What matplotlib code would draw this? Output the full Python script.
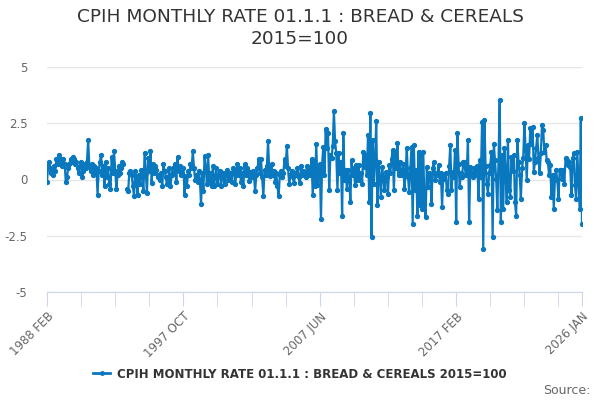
import numpy as np
import matplotlib
matplotlib.use("Agg")
import matplotlib.pyplot as plt
from matplotlib.lines import Line2D

nan = np.nan

# monthly rate, 1988 FEB .. 2026 JAN (one row per year)
y1988 = [-0.1, 0.6, 0.8, 0.3, 0.5, 0.2, 0.6, 0.4, 0.9, 0.7, 1.1]
y1989 = [0.8, 0.9, 0.6, 0.9, 0.7, -0.1, 0.1, 0.5, 0.7, 0.9, 0.8, 1.0]
y1990 = [0.9, 0.7, 0.8, 0.5, 0.3, 0.6, 0.8, 0.1, 0.4, 0.7, 0.5, 0.8]
y1991 = [1.75, 0.6, 0.4, 0.7, 0.2, 0.6, 0.3, 0.5, -0.67, 0.4, 0.8, 1.1]
y1992 = [0.2, 0.6, -0.3, 0.8, 0.1, 0.5, -0.2, -0.44, 1.0, 0.3, 1.26, 0.4]
y1993 = [-0.4, 0.22, 0.6, 0.3, 0.5, 0.8, 0.7, nan, nan, -0.44, -0.52, 0.3]
y1994 = [0.37, 0.2, -0.3, -0.74, 0.37, 0.1, -0.67, 0.2, -0.2, 0.44, 0.1, -0.52]
y1995 = [1.19, 0.3, -0.6, 0.96, 0.4, 1.26, -0.15, 0.67, 0.3, 0.6, 0.44, 0.1]
y1996 = [0.2, 0.0, 0.3, -0.3, 0.67, 0.4, 0.1, -0.2, 0.0, 0.5, -0.3, 0.2]
y1997 = [0.5, 0.3, 0.7, -0.1, 1.0, 0.4, 0.6, 0.2, 0.3, 0.5, -0.67, 0.15]
y1998 = [-0.3, 0.4, 0.2, 0.67, 0.5, 1.26, 0.5, 0.0, 0.2, -0.1, 0.4, 0.0]
y1999 = [-1.1, 0.3, -0.5, 1.04, 0.5, -0.2, 1.1, 0.0, 0.3, -0.3, 0.6, -0.3]
y2000 = [0.1, 0.5, -0.2, 0.2, 0.4, -0.3, 0.1, 0.3, -0.2, 0.2, 0.44, 0.0]
y2001 = [0.1, 0.3, -0.1, 0.5, 0.44, -0.2, 0.2, 0.67, 0.2, 0.5, -0.1, 0.3]
y2002 = [-0.3, 0.67, 0.2, 0.5, 0.37, -0.07, 0.3, 0.1, 0.4, 0.2, -0.52, 0.2]
y2003 = [0.5, 0.89, 0.3, 0.89, 0.1, -0.74, 0.44, 0.2, 0.6, 1.7, 0.4, 0.15]
y2004 = [0.67, 0.2, 0.4, -0.1, 0.3, -0.3, -0.74, 0.2, 0.4, 0.1, 0.3, 0.89]
y2005 = [0.6, 1.5, 0.5, -0.2, 0.2, 0.37, 0.1, -0.15, 0.3, 0.2, 0.52, 0.1]
y2006 = [-0.15, 0.6, 0.2, 0.4, 0.3, 0.1, 0.6, 0.3, 0.5, 0.2, 0.89, -0.7]
y2007 = [0.8, -0.3, 1.6, -0.25, 0.34, 0.7, -1.75, 0.7, 1.46, 0.2, 2.24, 1.4]
y2008 = [2.06, -0.48, 1.09, 0.94, 1.5, 3.03, 1.7, 1.16, -0.48, 1.16, 0.3, 0.8]
y2009 = [-1.6, 2.06, -0.03, 0.42, -0.4, 0.42, 0.1, -1.0, 0.87, 0.2, 0.5, -0.25]
y2010 = [0.64, 0.0, 0.64, 0.0, 0.3, -0.2, 1.24, 0.57, 1.09, 0.2, 1.98, -1.0]
y2011 = [2.96, -2.57, 1.76, -0.18, 0.9, 2.58, -1.15, 0.8, 0.1, -0.78, 0.57, 0.1]
y2012 = [-0.48, 0.34, 0.1, -0.63, 0.64, 0.3, 0.9, 1.31, -0.48, 1.16, 0.5, 1.61]
y2013 = [0.2, 0.79, 0.34, 0.2, 0.71, -0.4, 0.3, 1.39, 0.12, -0.55, 0.5, 1.46]
y2014 = [-1.96, 1.53, -0.48, 0.42, -1.6, 1.24, -1.15, 1.16, -1.3, 1.24, -1.07, -1.67]
y2015 = [0.57, -0.33, 0.3, 0.19, -1.07, 0.5, 0.79, -0.03, 0.27, 0.2, 0.64, -0.1]
y2016 = [0.3, -1.22, 0.19, 0.04, 0.3, -0.48, -0.63, 0.6, 1.53, -0.48, 0.34, 0.1]
y2017 = [1.31, -1.89, 2.05, 0.71, -0.33, 0.3, 0.12, 0.79, 0.79, 0.2, 0.42, 1.76]
y2018 = [-1.89, 0.57, 0.3, 0.12, 0.5, 0.19, 0.34, 0.6, -0.85, 0.86, 0.12, 2.57]
y2019 = [-3.08, 2.65, 0.6, -0.18, -0.63, 0.3, 0.64, 1.24, -2.56, 1.6, 0.86, 0.04]
y2020 = [-1.37, 0.86, 3.54, -1.89, 1.09, -1.3, 1.38, 0.3, -1.0, 1.76, -0.48, -0.77]
y2021 = [1.01, 0.4, 1.09, -1.0, -1.6, 1.76, 0.79, 0.19, -0.85, 0.5, 0.94, 2.5]
y2022 = [1.38, -0.03, 1.53, 0.9, 2.28, 1.6, 2.35, 0.34, 0.8, 1.38, 1.98, 0.94]
y2023 = [0.27, 1.2, 2.43, 2.2, 1.24, 1.53, 0.86, 0.79, 0.19, 0.64, -0.77, 0.19]
y2024 = [-1.3, 0.1, 0.42, -0.03, -0.85, 0.42, 0.42, 0.04, 0.42, -0.18, 0.94, 0.86]
y2025 = [0.64, 0.79, 0.57, -0.7, 0.94, 1.16, -0.25, -0.85, 1.24, -0.03, -1.3, 2.72]
y2026 = [-1.96]

values = (y1988 + y1989 + y1990 + y1991 + y1992 + y1993 + y1994 + y1995 + y1996
          + y1997 + y1998 + y1999 + y2000 + y2001 + y2002 + y2003 + y2004 + y2005
          + y2006 + y2007 + y2008 + y2009 + y2010 + y2011 + y2012 + y2013 + y2014
          + y2015 + y2016 + y2017 + y2018 + y2019 + y2020 + y2021 + y2022 + y2023
          + y2024 + y2025 + y2026)

tick_labels = ["1988 FEB", "1997 OCT", "2007 JUN", "2017 FEB", "2026 JAN"]
label_pos = [0, 116, 232, 348, 455]
series_name = "CPIH MONTHLY RATE 01.1.1 : BREAD & CEREALS 2015=100"

blue = "#0a78be"
x = np.arange(len(values))

fig = plt.figure(figsize=(6, 4), dpi=100)
ax = fig.add_axes([47 / 600, 1 - 292 / 400, 535 / 600, 225 / 400])

ax.plot(x, values, color=blue, lw=1.6, marker="o", ms=2.8, zorder=3)

ax.set_xlim(0, len(values) - 1)
ax.set_ylim(-5, 5)
ax.set_yticks([-5, -2.5, 0, 2.5, 5])
ax.set_yticklabels(["-5", "-2.5", "0", "2.5", "5"])
ax.grid(axis="y", color="#e6e6e6", lw=1)
ax.set_axisbelow(True)

for s in ["top", "right", "left"]:
    ax.spines[s].set_visible(False)
ax.spines["bottom"].set_color("#ccd6eb")

ax.set_xticks(list(range(0, len(values), 29)) + [len(values) - 1], minor=True)
ax.set_xticks(label_pos)
ax.set_xticklabels(tick_labels, rotation=45, ha="right", rotation_mode="anchor")
ax.tick_params(axis="x", which="both", length=10, color="#ccd6eb", labelsize=8.5,
               labelcolor="#666666", pad=3)
ax.tick_params(axis="y", length=0, labelsize=8.5, labelcolor="#666666", pad=14)

fig.text(0.5, 1 - 28 / 400, "CPIH MONTHLY RATE 01.1.1 : BREAD & CEREALS\n2015=100",
         ha="center", va="center", fontsize=13.3, color="#333333", linespacing=1.25)

handle = Line2D([], [], color=blue, lw=2, marker="o", ms=2.5)
fig.legend([handle], [series_name], loc="center", bbox_to_anchor=(0.5, 1 - 374 / 400),
           frameon=False, handlelength=1.4, handletextpad=0.6,
           prop={"size": 8.5, "weight": "bold"}, labelcolor="#333333")

fig.text(590 / 600, 1 - 390 / 400, "Source:", ha="right", va="center", fontsize=9,
         color="#666666")

fig.savefig("out.png", dpi=100)
